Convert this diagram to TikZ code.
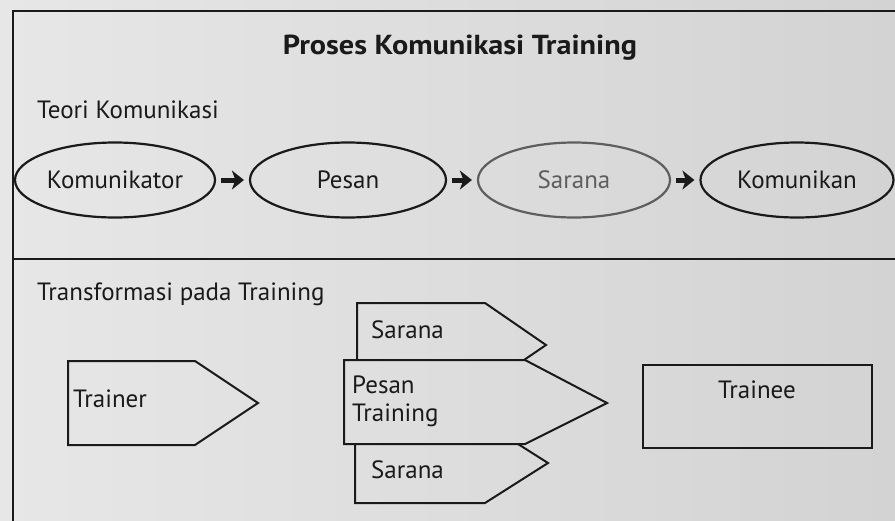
\documentclass[tikz,border=0pt]{standalone}
\usepackage{fontspec}
\setmainfont{PT Sans}
\newfontfamily\titlefont{PT Sans Bold}[FakeStretch=1.1]
\usetikzlibrary{arrows.meta,shapes.geometric}
\definecolor{paperL}{HTML}{E7E7E7}
\definecolor{paperR}{HTML}{D3D3D3}
\definecolor{ink}{HTML}{1A1A1A}
\definecolor{faded}{HTML}{5E5E5E}
\begin{document}
\begin{tikzpicture}[x=1pt,y=-1pt,
  lbl/.style={font=\fontsize{25}{28}\selectfont, text=ink, inner sep=0pt},
  oval/.style={ellipse, draw=ink, line width=2.2pt, minimum width=194pt, minimum height=75pt, inner sep=0pt, font=\fontsize{25}{28}\selectfont, text=ink},
  flow/.style={-{Stealth[length=12pt,width=19pt,inset=3.5pt]}, line width=5pt, draw=ink, shorten <=5pt, shorten >=5pt},
  shp/.style={draw=ink, line width=2pt, line join=miter},
  rule/.style={draw=ink, line width=2.6pt}]
\useasboundingbox (0,0) rectangle (895,520);
\clip (0,0) rectangle (895,520);
\shade[left color=paperL, right color=paperR] (0,0) rectangle (895,520);
% frame
\draw[rule] (13,525) -- (13,11) -- (900,11);
\draw[rule] (13,259) -- (900,259);
% title and headings
\node[lbl, font=\fontsize{27.5}{30}\titlefont] (title) at (460,48) {Proses Komunikasi Training};
\node[lbl, anchor=west] (teori) at (37,110) {Teori Komunikasi};
\node[lbl, anchor=west] (transf) at (37,294) {Transformasi pada Training};
% communication theory row
\node[oval, minimum width=200pt] (kmr) at (115,180) {Komunikator};
\node[oval, minimum width=196pt] (psn) at (348,180) {Pesan};
\node[oval, minimum width=192pt, draw=faded, text=faded] (srn) at (574,180) {Sarana};
\node[oval, minimum width=193pt] (kmn) at (797,180) {Komunikan};
\draw[flow] (kmr) -- (psn);
\draw[flow] (psn) -- (srn);
\draw[flow] (srn) -- (kmn);
% training transformation
\draw[shp] (68,361) -- (195,361) -- (258,403) -- (195,445) -- (68,445) -- cycle;
\node[lbl, anchor=west] (trainer) at (73,399) {Trainer};
\draw[shp] (357,360) -- (357,303) -- (485,303) -- (546,345) -- (524,360);
\node[lbl, anchor=west] (srnA) at (371,330) {Sarana};
\draw[shp] (355,444) -- (355,503) -- (485,503) -- (548,463) -- (518,444);
\node[lbl, anchor=west] (srnB) at (371,470) {Sarana};
\draw[shp] (344,360) -- (525,360) -- (607,403) -- (525,444) -- (344,444) -- cycle;
\node[lbl, anchor=west, align=left] (pesan) at (352,401) {Pesan\\Training};
\draw[shp] (643,365) rectangle (872,448);
\node[lbl] (trainee) at (757,390) {Trainee};
\end{tikzpicture}
\end{document}
